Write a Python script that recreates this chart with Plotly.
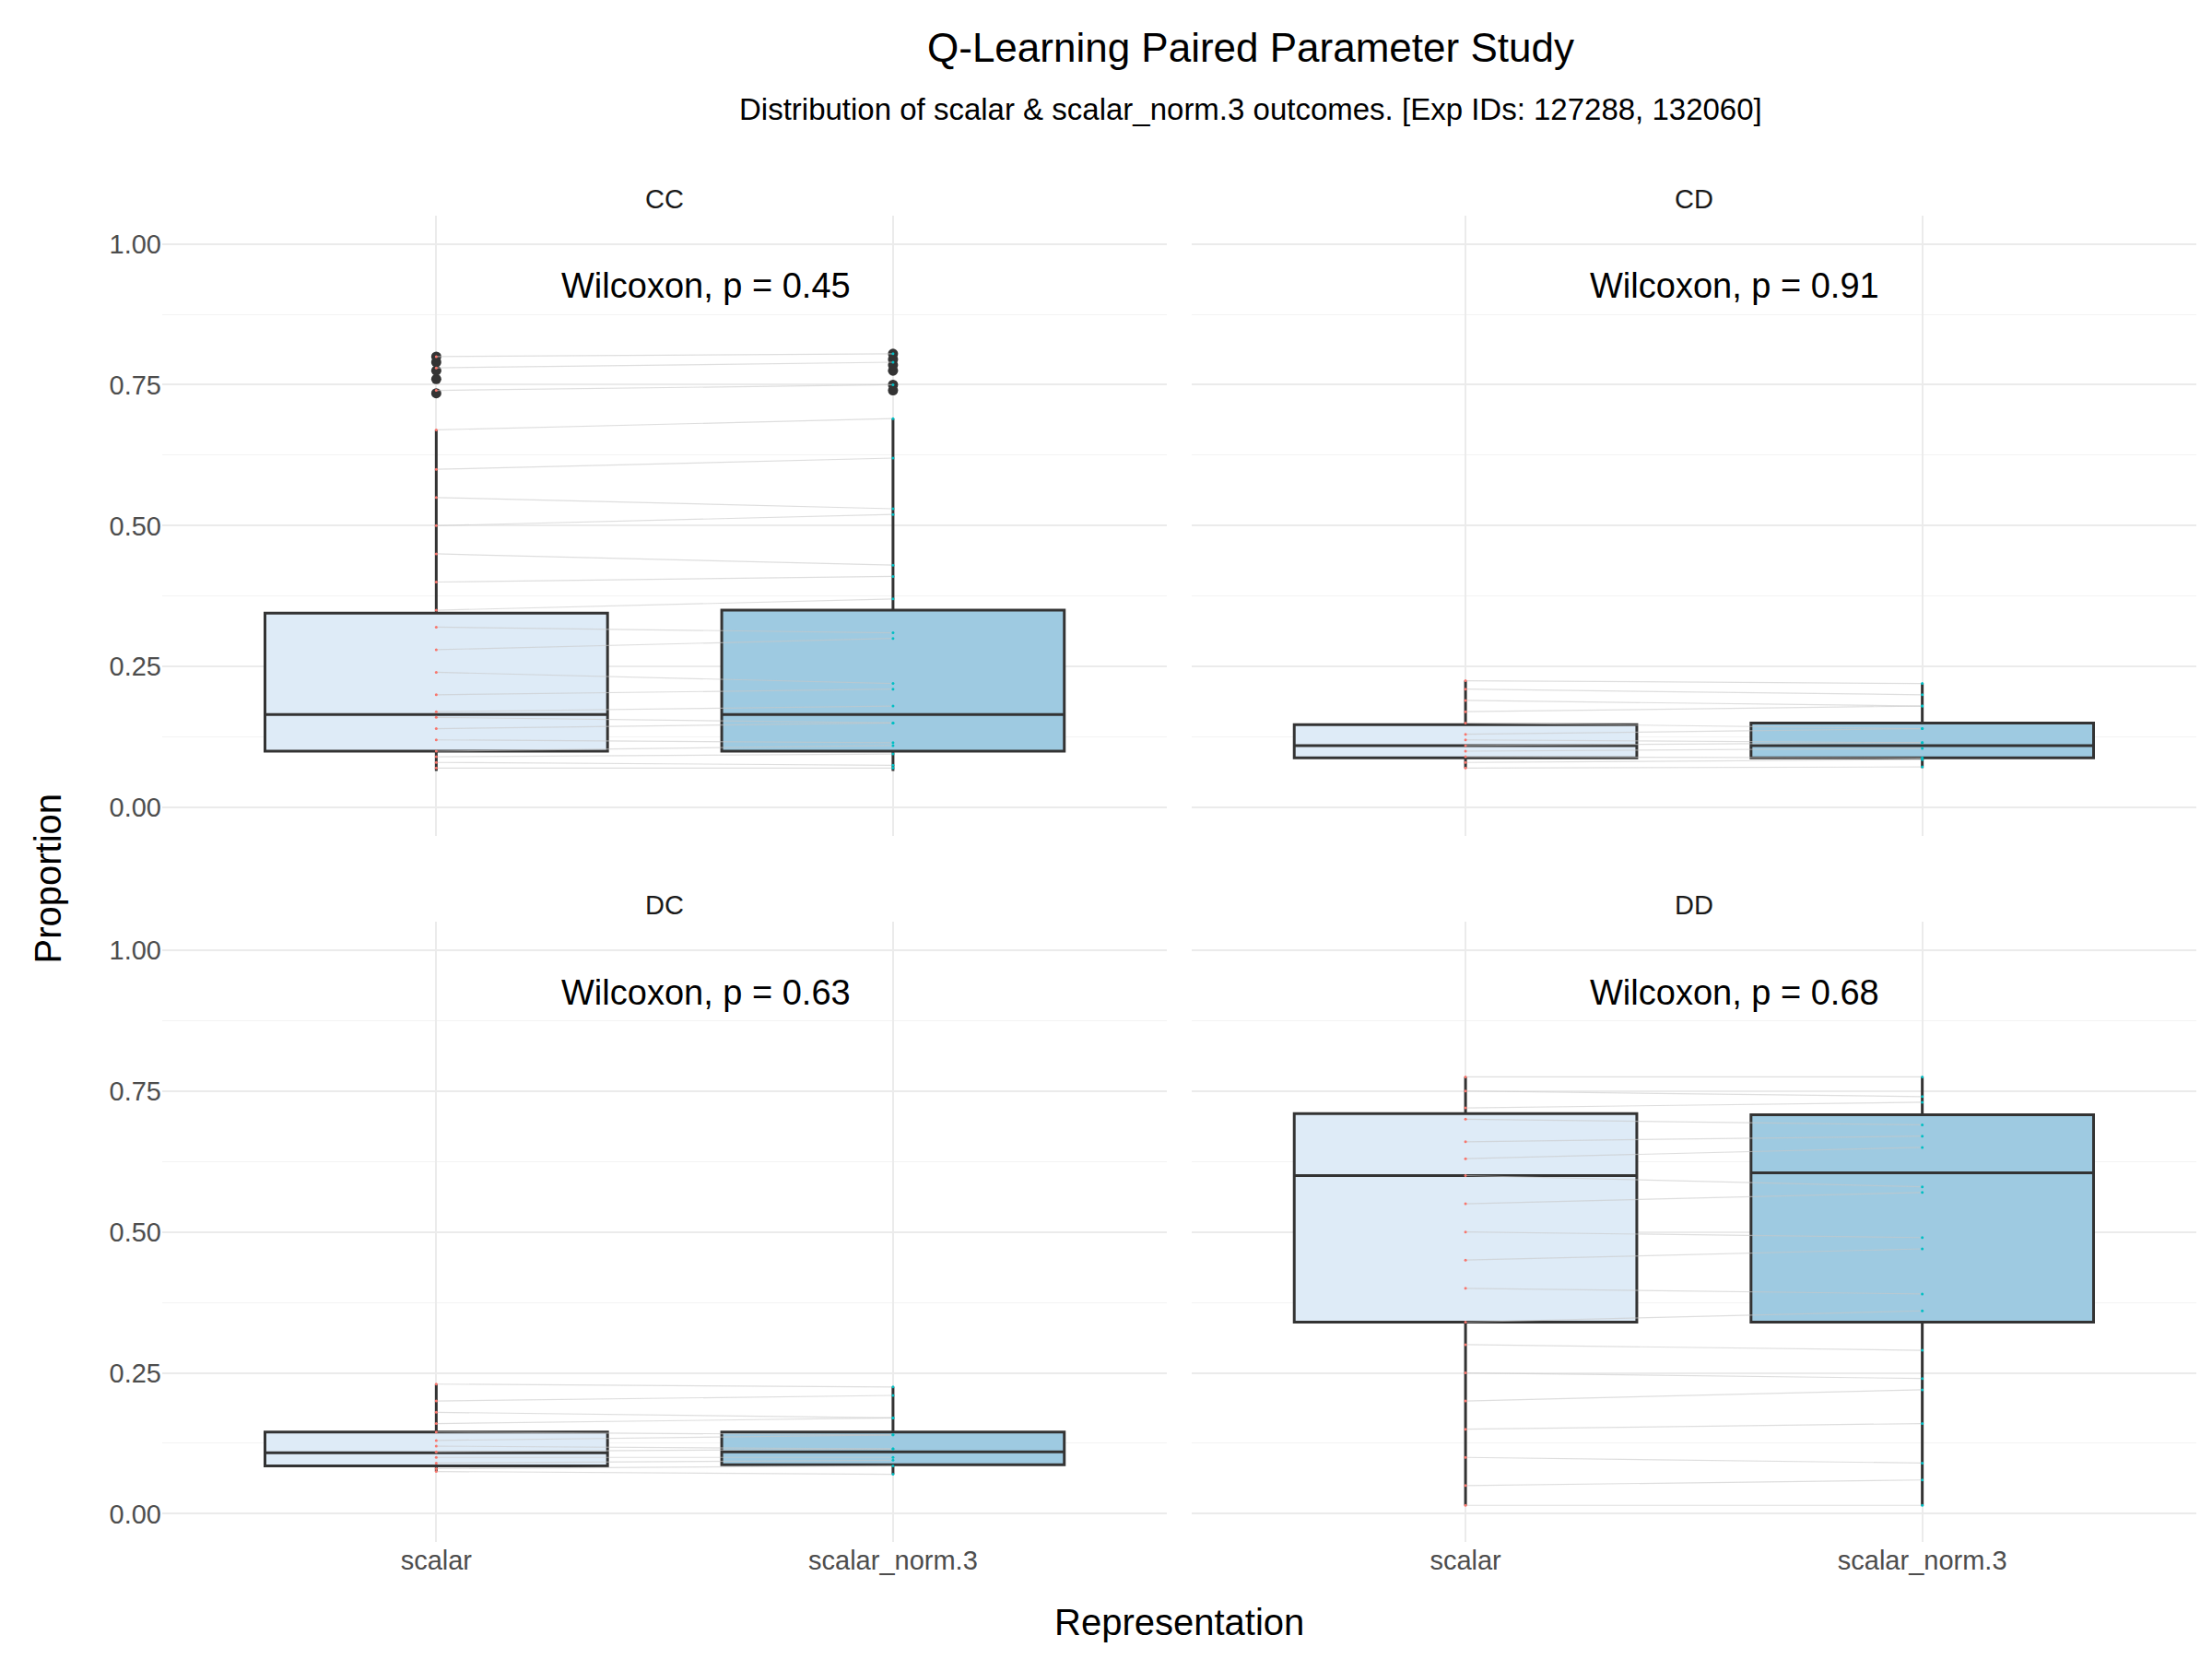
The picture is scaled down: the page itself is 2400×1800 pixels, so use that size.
import plotly.graph_objects as go
from plotly.subplots import make_subplots

panels = ["CC", "CD", "DC", "DD"]
groups = ["scalar", "scalar_norm.3"]
pvals = ["0.45", "0.91", "0.63", "0.68"]
# stats: q1, median, q3, lower whisker, upper whisker
stats_scalar = {"CC": [0.10, 0.165, 0.345, 0.065, 0.67], "CD": [0.088, 0.11, 0.147, 0.07, 0.225],
                "DC": [0.085, 0.108, 0.145, 0.075, 0.23], "DD": [0.34, 0.60, 0.71, 0.015, 0.775]}
stats_norm = {"CC": [0.10, 0.165, 0.35, 0.065, 0.69], "CD": [0.088, 0.11, 0.15, 0.07, 0.22],
              "DC": [0.087, 0.11, 0.145, 0.07, 0.225], "DD": [0.34, 0.605, 0.708, 0.015, 0.775]}
outliers_scalar = {"CC": [0.735, 0.76, 0.775, 0.79, 0.80], "CD": [], "DC": [], "DD": []}
outliers_norm = {"CC": [0.74, 0.75, 0.775, 0.785, 0.795, 0.805], "CD": [], "DC": [], "DD": []}
pairs_scalar = {
    "CC": [0.07, 0.08, 0.09, 0.10, 0.12, 0.14, 0.16, 0.17, 0.20, 0.24, 0.28, 0.32, 0.35, 0.40, 0.45, 0.50, 0.55, 0.60, 0.67, 0.74, 0.78, 0.80],
    "CD": [0.07, 0.08, 0.09, 0.10, 0.11, 0.12, 0.13, 0.15, 0.17, 0.19, 0.21, 0.225],
    "DC": [0.075, 0.08, 0.09, 0.10, 0.11, 0.12, 0.13, 0.145, 0.16, 0.18, 0.20, 0.23],
    "DD": [0.015, 0.05, 0.10, 0.15, 0.20, 0.25, 0.30, 0.34, 0.40, 0.45, 0.50, 0.55, 0.60, 0.63, 0.66, 0.70, 0.72, 0.75, 0.775],
}
pairs_norm = {
    "CC": [0.07, 0.075, 0.095, 0.11, 0.115, 0.15, 0.15, 0.18, 0.21, 0.22, 0.30, 0.31, 0.37, 0.41, 0.43, 0.52, 0.53, 0.62, 0.69, 0.75, 0.79, 0.805],
    "CD": [0.072, 0.085, 0.088, 0.105, 0.115, 0.115, 0.14, 0.14, 0.18, 0.18, 0.20, 0.22],
    "DC": [0.07, 0.085, 0.095, 0.10, 0.115, 0.115, 0.14, 0.14, 0.17, 0.17, 0.21, 0.225],
    "DD": [0.015, 0.06, 0.09, 0.16, 0.22, 0.24, 0.29, 0.36, 0.39, 0.47, 0.49, 0.57, 0.58, 0.65, 0.67, 0.69, 0.73, 0.74, 0.775],
}
fills = ["#deebf7", "#9ecae1"]

fig = make_subplots(rows=2, cols=2, subplot_titles=panels, shared_xaxes=True, shared_yaxes=True,
                    horizontal_spacing=0.012, vertical_spacing=0.065)
for i, p in enumerate(panels):
    r, c = i // 2 + 1, i % 2 + 1
    for gi, (st, fc) in enumerate([(stats_scalar[p], fills[0]), (stats_norm[p], fills[1])]):
        fig.add_trace(go.Box(x=[gi + 1], q1=[st[0]], median=[st[1]], q3=[st[2]], lowerfence=[st[3]],
                             upperfence=[st[4]], width=0.75, fillcolor=fc, line=dict(color="#333333", width=3),
                             whiskerwidth=0, boxpoints=False, hoverinfo="skip", showlegend=False), row=r, col=c)
    for gi, outs in enumerate([outliers_scalar[p], outliers_norm[p]]):
        if outs:
            fig.add_trace(go.Scatter(x=[gi + 1] * len(outs), y=outs, mode="markers",
                                     marker=dict(color="#333333", size=11), showlegend=False), row=r, col=c)
    lx, ly = [], []
    for a, b in zip(pairs_scalar[p], pairs_norm[p]):
        lx += [1, 2, None]; ly += [a, b, None]
    fig.add_trace(go.Scatter(x=lx, y=ly, mode="lines", line=dict(color="rgba(200,200,200,0.6)", width=1.2),
                             showlegend=False, hoverinfo="skip"), row=r, col=c)
    fig.add_trace(go.Scatter(x=[1] * len(pairs_scalar[p]), y=pairs_scalar[p], mode="markers",
                             marker=dict(color="#f8766d", size=3), showlegend=False), row=r, col=c)
    fig.add_trace(go.Scatter(x=[2] * len(pairs_norm[p]), y=pairs_norm[p], mode="markers",
                             marker=dict(color="#00bfc4", size=3), showlegend=False), row=r, col=c)
    fig.add_annotation(x=1.59, y=0.925, text="Wilcoxon, p = " + pvals[i], showarrow=False,
                       font=dict(size=38, color="black"), row=r, col=c)

fig.update_xaxes(range=[0.4, 2.6], tickvals=[1, 2], ticktext=groups, showgrid=True, gridcolor="#ebebeb",
                 gridwidth=2, zeroline=False, tickfont=dict(size=29, color="#4d4d4d"))
fig.update_yaxes(range=[-0.05, 1.05], tickvals=[0, 0.25, 0.5, 0.75, 1.0],
                 ticktext=["0.00", "0.25", "0.50", "0.75", "1.00"], showgrid=True, gridcolor="#ebebeb",
                 gridwidth=2, zeroline=False, tickfont=dict(size=29, color="#4d4d4d"),
                 minor=dict(tickvals=[0.125, 0.375, 0.625, 0.875], showgrid=True, gridcolor="#f3f3f3", gridwidth=1))
for a in fig.layout.annotations[:4]:
    a.font = dict(size=29, color="#1a1a1a")
fig.update_layout(
    width=2400, height=1800, plot_bgcolor="white", paper_bgcolor="white",
    font=dict(family="Liberation Sans, Arial", color="black"),
    margin=dict(l=168, r=25, t=226, b=135),
)
fig.add_annotation(text="Q-Learning Paired Parameter Study", x=0.535, y=1 - 43/1800, xref="paper", yref="paper",
                   yanchor="middle", showarrow=False, font=dict(size=44), yshift=0)
fig.add_annotation(text="Distribution of scalar &amp; scalar_norm.3 outcomes. [Exp IDs: 127288, 132060]",
                   x=0.535, y=1.0, xref="paper", yref="paper", showarrow=False, font=dict(size=33),
                   yshift=226 - 110, yanchor="middle")
fig.layout.annotations[-2].yshift = 226 - 43
fig.layout.annotations[-2].y = 1.0
fig.add_annotation(text="Representation", x=0.5, y=0, xref="paper", yref="paper", showarrow=False,
                   font=dict(size=40), xanchor="center", yanchor="middle", yshift=-(1752 - 1665))
fig.add_annotation(text="Proportion", x=0, y=0.5, xref="paper", yref="paper", showarrow=False,
                   font=dict(size=40), textangle=-90, xanchor="center", xshift=-(168 - 43))
fig.write_html("out.html")
